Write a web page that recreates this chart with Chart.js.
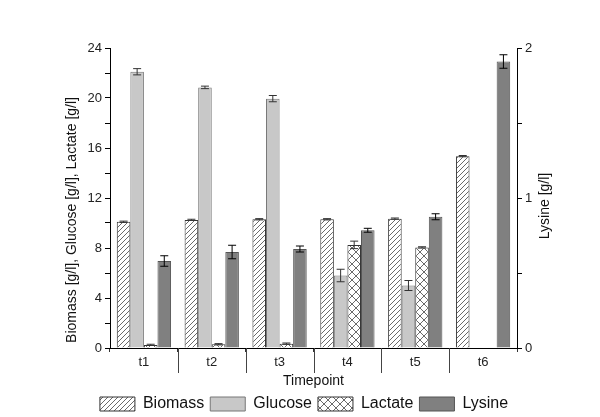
<!DOCTYPE html>
<html>
<head>
<meta charset="utf-8">
<script src="https://cdn.jsdelivr.net/npm/chart.js@4"></script>
<style>
  body { margin: 0; background: #fff; }
  #wrap { width: 600px; height: 417px; }
</style>
</head>
<body>
<div id="wrap"><canvas id="chart"></canvas></div>
<script>
const timepoints = ['t1', 't2', 't3', 't4', 't5', 't6'];

// g/l on the left axis
const biomass = [10.1, 10.25, 10.3, 10.3, 10.35, 15.35];
const biomassErr = [0.05, 0.05, 0.05, 0.05, 0.05, 0.05];
const glucose = [22.1, 20.85, 19.95, 5.8, 5.0, 0.05];
const glucoseErr = [0.25, 0.1, 0.25, 0.5, 0.4, 0];
const lactate = [0.25, 0.3, 0.35, 8.25, 8.05, 0.05];
const lactateErr = [0.05, 0.05, 0.05, 0.3, 0.05, 0];

// g/l on the right axis
const lysine = [0.58, 0.64, 0.66, 0.785, 0.875, 1.91];
const lysineErr = [0.035, 0.045, 0.02, 0.013, 0.02, 0.045];

const leftTicks = [0, 4, 8, 12, 16, 20, 24];
const rightTicks = [0, 1, 2];
const leftTitle = 'Biomass [g/l], Glucose [g/l], Lactate [g/l]';
const rightTitle = 'Lysine [g/l]';

function hatch(cross) {
  const c = document.createElement('canvas');
  const s = cross ? 8 : 5;
  c.width = s; c.height = s;
  const g = c.getContext('2d');
  g.fillStyle = '#fff';
  g.fillRect(0, 0, s, s);
  g.strokeStyle = '#444';
  g.lineWidth = 0.8;
  g.beginPath();
  g.moveTo(-1, s + 1); g.lineTo(s + 1, -1);
  g.moveTo(-1, 1); g.lineTo(1, -1);
  g.moveTo(s - 1, s + 1); g.lineTo(s + 1, s - 1);
  if (cross) {
    g.moveTo(-1, -1); g.lineTo(s + 1, s + 1);
    g.moveTo(s - 1, -1); g.lineTo(s + 1, 1);
    g.moveTo(-1, s - 1); g.lineTo(1, s + 1);
  }
  g.stroke();
  return g.createPattern(c, 'repeat');
}

const errorBars = {
  id: 'errorBars',
  afterDatasetsDraw(chart) {
    const ctx = chart.ctx;
    chart.data.datasets.forEach((ds, di) => {
      const meta = chart.getDatasetMeta(di);
      const scale = chart.scales[ds.yAxisID];
      meta.data.forEach((bar, i) => {
        const e = ds.errors[i];
        if (!e) return;
        const v = ds.data[i];
        const yTop = scale.getPixelForValue(v + e);
        const yBot = scale.getPixelForValue(v - e);
        const x = bar.x;
        ctx.save();
        ctx.strokeStyle = ds.errColor;
        ctx.lineWidth = 1;
        ctx.beginPath();
        ctx.moveTo(x, yTop); ctx.lineTo(x, yBot);
        ctx.moveTo(x - 4, yTop); ctx.lineTo(x + 4, yTop);
        ctx.moveTo(x - 4, yBot); ctx.lineTo(x + 4, yBot);
        ctx.stroke();
        ctx.restore();
      });
    });
  }
};

function vText(ctx, text, x, y) {
  ctx.save();
  ctx.translate(x, y);
  ctx.rotate(-Math.PI / 2);
  ctx.fillStyle = '#111';
  ctx.font = "14px 'Liberation Sans', Arial, sans-serif";
  ctx.textAlign = 'center';
  ctx.textBaseline = 'middle';
  ctx.fillText(text, 0, 0);
  ctx.restore();
}

// long separators between the timepoint groups, and both y axis titles
const extras = {
  id: 'extras',
  afterDraw(chart) {
    const xs = chart.scales.x;
    const ctx = chart.ctx;
    const y0 = xs.top;
    ctx.save();
    ctx.strokeStyle = '#444';
    ctx.lineWidth = 1;
    ctx.beginPath();
    for (let i = 0; i < timepoints.length - 1; i++) {
      const x = Math.round((xs.getPixelForValue(i) + xs.getPixelForValue(i + 1)) / 2) + 0.5;
      ctx.moveTo(x, y0); ctx.lineTo(x, y0 + 25);
    }
    ctx.stroke();
    ctx.restore();

    const l = chart.scales.y;
    const r = chart.scales.y1;
    const mid = (l.top + l.bottom) / 2;
    vText(ctx, leftTitle, l.right - 38, mid + 22);
    vText(ctx, rightTitle, r.left + 28, mid + 8);
  }
};

const font = "'Liberation Sans', Arial, sans-serif";

new Chart(document.getElementById('chart'), {
  type: 'bar',
  data: {
    labels: timepoints,
    datasets: [
      { label: 'Biomass', data: biomass, errors: biomassErr, errColor: '#333', yAxisID: 'y',
        backgroundColor: hatch(false), borderColor: '#333', borderWidth: 1 },
      { label: 'Glucose', data: glucose, errors: glucoseErr, errColor: '#333', yAxisID: 'y',
        backgroundColor: '#c8c8c8', borderColor: '#777', borderWidth: 1 },
      { label: 'Lactate', data: lactate, errors: lactateErr, errColor: '#333', yAxisID: 'y',
        backgroundColor: hatch(true), borderColor: '#333', borderWidth: 1 },
      { label: 'Lysine', data: lysine, errors: lysineErr, errColor: '#000', yAxisID: 'y1',
        backgroundColor: '#808080', borderColor: '#555', borderWidth: 1 }
    ]
  },
  options: {
    responsive: true,
    maintainAspectRatio: false,
    animation: false,
    layout: { padding: { top: 48, left: 8, right: 0, bottom: -5 } },
    datasets: { bar: { categoryPercentage: 0.8, barPercentage: 1.0 } },
    scales: {
      x: {
        grid: { display: true, drawOnChartArea: false, tickLength: 4, tickColor: '#333' },
        border: { display: true, color: '#000', width: 1 },
        ticks: { color: '#222', font: { family: font, size: 13 }, padding: 3 },
        title: { display: true, text: 'Timepoint', color: '#111', font: { family: font, size: 14 }, padding: { top: 2, bottom: 0 } },
        afterFit(scale) { scale.height = 42; }
      },
      y: {
        position: 'left',
        min: 0, max: 24,
        grid: { drawOnChartArea: false, tickLength: 5, tickColor: '#000' },
        border: { display: true, color: '#000', width: 1 },
        ticks: {
          stepSize: 2,
          color: '#222',
          font: { family: font, size: 13 },
          padding: 3,
          callback: v => leftTicks.includes(v) ? v : ''
        },
        afterFit(scale) { scale.width = 102; }
      },
      y1: {
        position: 'right',
        min: 0, max: 2,
        grid: { drawOnChartArea: false, tickLength: 5, tickColor: '#000' },
        border: { display: true, color: '#000', width: 1 },
        ticks: {
          stepSize: 0.5,
          color: '#222',
          font: { family: font, size: 13 },
          padding: 3,
          callback: v => rightTicks.includes(v) ? v : ''
        },
        afterFit(scale) { scale.width = 83; }
      }
    },
    plugins: {
      legend: {
        position: 'bottom',
        labels: {
          boxWidth: 35, boxHeight: 14, padding: 6,
          color: '#111',
          font: { family: font, size: 16 }
        }
      },
      tooltip: { enabled: false }
    }
  },
  plugins: [errorBars, extras]
});
</script>
</body>
</html>
